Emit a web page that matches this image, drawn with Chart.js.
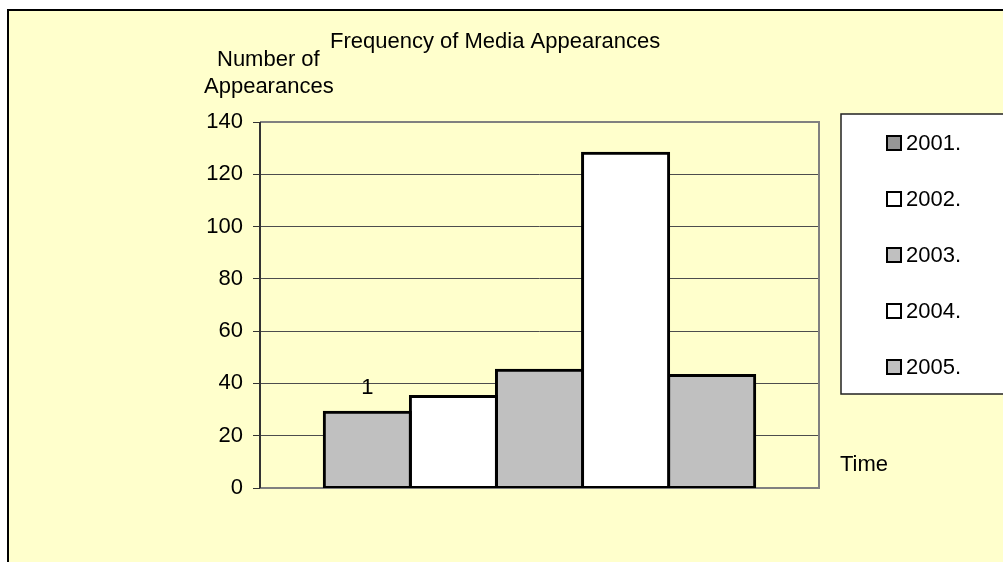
<!DOCTYPE html>
<html>
<head>
<meta charset="utf-8">
<script src="https://cdn.jsdelivr.net/npm/chart.js@4"></script>
<style>
  body { margin: 0; background: #fff; }
  #wrap { width: 1003px; height: 562px; }
</style>
</head>
<body>
<div id="wrap"><canvas id="bar-chartcanvas" width="1003" height="562"></canvas></div>
<script>
// data
var categories = ["1"];
var seriesNames = ["2001.", "2002.", "2003.", "2004.", "2005."];
var seriesValues = [[29], [35], [45], [128], [43]];
var yTicks = [0, 20, 40, 60, 80, 100, 120, 140];

var barColors = ["#C0C0C0", "#FFFFFF", "#C0C0C0", "#FFFFFF", "#C0C0C0"];
var legendColors = ["#969696", "#FFFFFF", "#C0C0C0", "#FFFFFF", "#C0C0C0"];
var FONT = '22px "Liberation Sans", Arial, sans-serif';

var ctx = document.getElementById("bar-chartcanvas");

var datasets = seriesNames.map(function (name, i) {
	return {
		label: name,
		data: seriesValues[i],
		backgroundColor: barColors[i],
		borderColor: "#000",
		borderWidth: 3,
		borderSkipped: false,
		inflateAmount: 1.5,
		barPercentage: 1,
		categoryPercentage: 0.77
	};
});

// page background, frame, texts and legend
var decor = {
	id: "decor",
	beforeDraw: function (chart) {
		var c = chart.ctx;
		c.save();
		c.fillStyle = "#FFFFCC";
		c.fillRect(8, 10, 1003, 562);
		c.strokeStyle = "#000";
		c.lineWidth = 2;
		c.beginPath();
		c.moveTo(8, 562);
		c.lineTo(8, 10);
		c.lineTo(1003, 10);
		c.stroke();
		c.restore();
	},
	beforeDatasetsDraw: function (chart) {
		var a = chart.chartArea, c = chart.ctx;
		c.save();
		c.strokeStyle = "#808080";
		c.lineWidth = 2;
		c.beginPath();
		c.moveTo(a.left, a.top);
		c.lineTo(a.right, a.top);
		c.lineTo(a.right, a.bottom);
		c.lineTo(a.left, a.bottom);
		c.stroke();
		c.strokeStyle = "#333";
		c.beginPath();
		c.moveTo(a.left, a.top);
		c.lineTo(a.left, a.bottom);
		c.stroke();
		c.restore();
	},
	afterDatasetsDraw: function (chart) {
		var c = chart.ctx;
		c.save();
		c.font = FONT;
		c.fillStyle = "#000";
		c.textBaseline = "alphabetic";
		c.textAlign = "left";
		c.fillText("Frequency of Media Appearances", 330, 48);
		c.fillText("Number of", 217, 66);
		c.fillText("Appearances", 204, 93);
		c.fillText("Time", 840, 471);

		// category label sits above the first bar
		var bar = chart.getDatasetMeta(0).data[0];
		c.textAlign = "center";
		c.textBaseline = "middle";
		c.fillText(categories[0], bar.x, bar.y - 24);

		// legend box
		c.fillStyle = "#FFFFFF";
		c.fillRect(841, 114, 200, 280);
		c.strokeStyle = "#222";
		c.lineWidth = 1.5;
		c.strokeRect(841, 114, 200, 280);
		c.textAlign = "left";
		seriesNames.forEach(function (name, i) {
			var cy = 143 + i * 56;
			c.fillStyle = legendColors[i];
			c.fillRect(887, cy - 7, 14, 14);
			c.strokeStyle = "#000";
			c.lineWidth = 2;
			c.strokeRect(887, cy - 7, 14, 14);
			c.fillStyle = "#000";
			c.fillText(name, 906, cy + 1);
		});
		c.restore();
	}
};

var chart = new Chart(ctx, {
	type: "bar",
	data: { labels: categories, datasets: datasets },
	plugins: [decor],
	options: {
		responsive: false,
		animation: false,
		layout: { padding: { left: 0, top: 122, right: 184, bottom: 74 } },
		plugins: {
			legend: { display: false },
			title: { display: false },
			tooltip: { enabled: false }
		},
		scales: {
			x: {
				ticks: { display: false },
				grid: { display: false },
				border: { display: false },
				afterFit: function (s) { s.height = 0; }
			},
			y: {
				min: 0,
				max: 140,
				afterFit: function (s) { s.width = 260; },
				afterBuildTicks: function (s) {
					s.ticks = yTicks.map(function (v) { return { value: v }; });
				},
				ticks: {
					font: { family: '"Liberation Sans", Arial, sans-serif', size: 22 },
					color: "#000",
					padding: 10
				},
				grid: {
					color: "#4d4d4d",
					lineWidth: 1,
					tickLength: 7,
					tickColor: "#333"
				},
				border: { display: false }
			}
		}
	}
});
</script>
</body>
</html>
